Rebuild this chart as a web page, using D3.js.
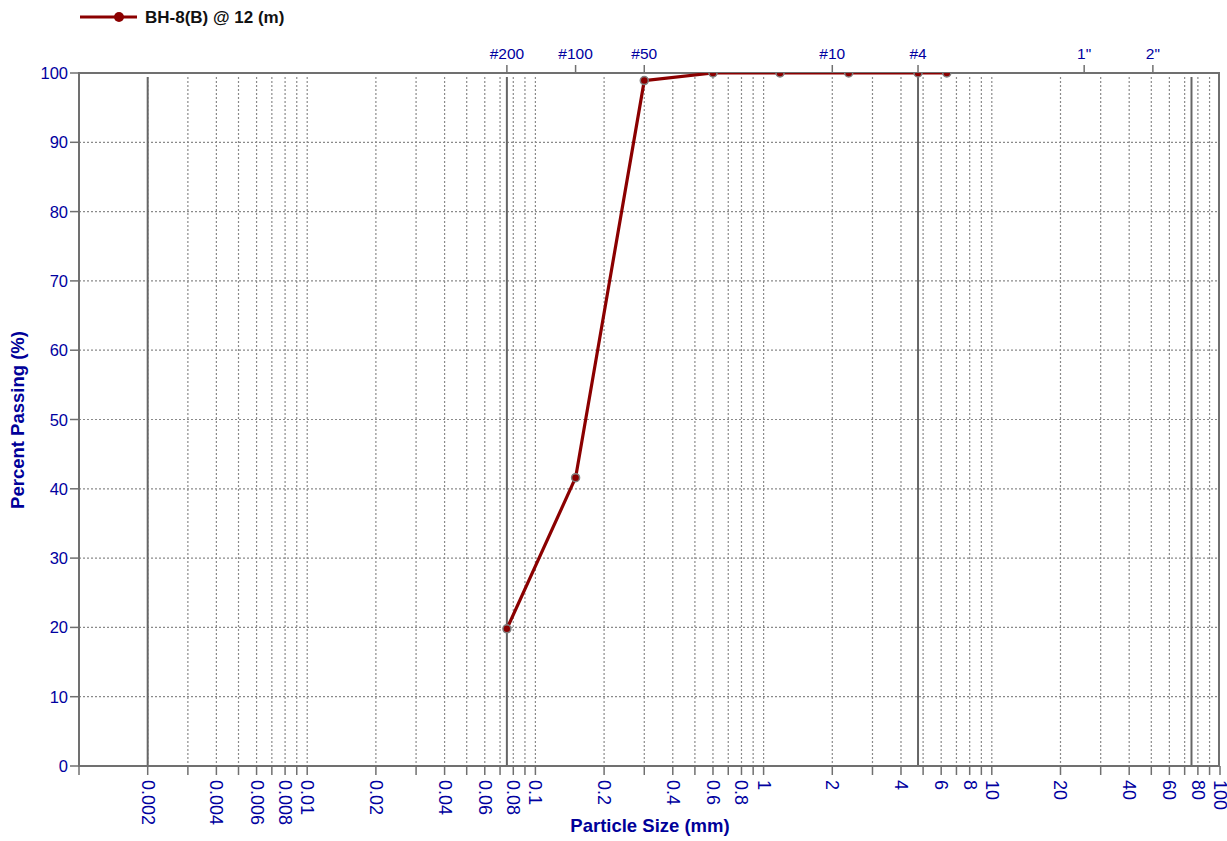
<!DOCTYPE html>
<html><head><meta charset="utf-8">
<script src="https://cdn.jsdelivr.net/npm/d3@7"></script>
<style>body{margin:0;background:#fff}svg{display:block;font-family:Arial,"Liberation Sans",sans-serif}</style>
</head><body><svg id="c" width="1227" height="841"></svg>
<script>
// ---- data ----
const seriesName = "BH-8(B) @ 12 (m)";
const particleSize = [0.075, 0.15, 0.3, 0.6, 1.18, 2.36, 4.75, 6.35];
const percentPassing = [19.8, 41.6, 98.9, 100, 100, 100, 100, 100];
const sieveNames = ["#200", "#100", "#50", "#10", "#4", "1\"", "2\""];
const sieveSizes = [0.075, 0.15, 0.3, 2.0, 4.75, 25.4, 50.8];
const boundaryLines = [0.002, 0.075, 4.75, 75];
const xLabelValues = [0.002,0.004,0.006,0.008,0.01,0.02,0.04,0.06,0.08,0.1,0.2,0.4,0.6,0.8,1,2,4,6,8,10,20,40,60,80,100];
const xLabelText = ["0.002","0.004","0.006","0.008","0.01","0.02","0.04","0.06","0.08","0.1","0.2","0.4","0.6","0.8","1","2","4","6","8","10","20","40","60","80","100"];
const yTicks = [0,10,20,30,40,50,60,70,80,90,100];

// ---- layout ----
const L = 79, R = 1220, T = 73, B = 766;
const blue = "#0000A0", titleBlue = "#000099", gridC = "#8a8a8a", axisC = "#707070", red = "#8B0000";
const svg = d3.select("#c");
const x = d3.scaleLog().domain([0.001, 100]).range([L, R]);
const y = d3.scaleLinear().domain([0, 100]).range([B, T]);

// minor grid values 1..9 per decade
const gridVals = [];
for (let e = -3; e <= 1; e++) for (let m = 1; m <= 9; m++) gridVals.push(+(m * Math.pow(10, e)).toPrecision(3));
gridVals.push(100);

const g = svg.append("g");
// vertical dotted grid
g.selectAll(".vg").data(gridVals.filter(v => v > 0.001 && v < 100)).join("line")
  .attr("x1", d => x(d)).attr("x2", d => x(d)).attr("y1", T + 4).attr("y2", B)
  .attr("stroke", gridC).attr("stroke-width", 1.2).attr("stroke-dasharray", "2,2");
// horizontal dotted grid
g.selectAll(".hg").data(yTicks.filter(v => v > 0 && v < 100)).join("line")
  .attr("x1", L).attr("x2", R).attr("y1", d => y(d)).attr("y2", d => y(d))
  .attr("stroke", gridC).attr("stroke-width", 1.2).attr("stroke-dasharray", "2,2");
// boundary solid lines
g.selectAll(".bl").data(boundaryLines).join("line")
  .attr("x1", d => x(d)).attr("x2", d => x(d)).attr("y1", T + 4).attr("y2", B)
  .attr("stroke", "#666").attr("stroke-width", 2);

// border
g.append("rect").attr("x", L).attr("y", T).attr("width", R - 1 - L).attr("height", B - T)
  .attr("fill", "none").attr("stroke", axisC).attr("stroke-width", 2);

// bottom ticks
g.selectAll(".bt").data(gridVals).join("line")
  .attr("x1", d => x(d)).attr("x2", d => x(d)).attr("y1", B).attr("y2", B + 9)
  .attr("stroke", axisC).attr("stroke-width", 1.5);
// bottom labels rotated
g.selectAll(".bx").data(xLabelValues).join("text")
  .attr("transform", d => `translate(${x(d)},${B + 14}) rotate(90)`)
  .attr("dominant-baseline", "central").attr("font-size", 18).attr("fill", blue)
  .text((d, i) => xLabelText[i]);

// top sieve ticks and labels
g.selectAll(".tt").data(sieveSizes).join("line")
  .attr("x1", d => x(d)).attr("x2", d => x(d)).attr("y1", T).attr("y2", T - 8)
  .attr("stroke", axisC).attr("stroke-width", 1.5);
g.selectAll(".tl").data(sieveSizes).join("text")
  .attr("x", d => x(d)).attr("y", T - 14).attr("text-anchor", "middle")
  .attr("font-size", 15.5).attr("fill", blue).text((d, i) => sieveNames[i]);

// left ticks/labels
g.selectAll(".lt").data(yTicks).join("line")
  .attr("x1", L - 9).attr("x2", L).attr("y1", d => y(d)).attr("y2", d => y(d))
  .attr("stroke", axisC).attr("stroke-width", 1.5);
g.selectAll(".ll").data(yTicks).join("text")
  .attr("x", L - 11).attr("y", d => y(d)).attr("text-anchor", "end").attr("dominant-baseline", "central")
  .attr("font-size", 16.5).attr("fill", blue).text(d => d);

// titles
svg.append("text").attr("x", 650).attr("y", 832).attr("text-anchor", "middle")
  .attr("font-size", 18.5).attr("font-weight", "bold").attr("fill", titleBlue).text("Particle Size (mm)");
svg.append("text").attr("transform", "translate(24,420) rotate(-90)").attr("text-anchor", "middle")
  .attr("font-size", 18.5).attr("font-weight", "bold").attr("fill", titleBlue).text("Percent Passing (%)");

// data (clipped to plot area)
svg.append("clipPath").attr("id", "clip").append("rect")
  .attr("x", L).attr("y", T).attr("width", R - L).attr("height", B - T);
const pts = particleSize.map((s, i) => [s, percentPassing[i]]);
const dg = svg.append("g").attr("clip-path", "url(#clip)");
dg.append("path").datum(pts)
  .attr("d", d3.line().x(d => x(d[0])).y(d => y(d[1])))
  .attr("fill", "none").attr("stroke", red).attr("stroke-width", 3.2).attr("stroke-linejoin", "round");
dg.selectAll("circle").data(pts).join("circle")
  .attr("cx", d => x(d[0])).attr("cy", d => y(d[1])).attr("r", 4)
  .attr("fill", red).attr("stroke", "#808080").attr("stroke-width", 1.5);

// legend
const lg = svg.append("g");
lg.append("line").attr("x1", 80).attr("x2", 137).attr("y1", 17).attr("y2", 17)
  .attr("stroke", red).attr("stroke-width", 3.2);
lg.append("circle").attr("cx", 119).attr("cy", 17).attr("r", 5).attr("fill", red);
lg.append("text").attr("x", 145).attr("y", 17).attr("dominant-baseline", "central")
  .attr("font-size", 17).attr("font-weight", "bold").attr("fill", "#111").text(seriesName);
</script></body></html>
